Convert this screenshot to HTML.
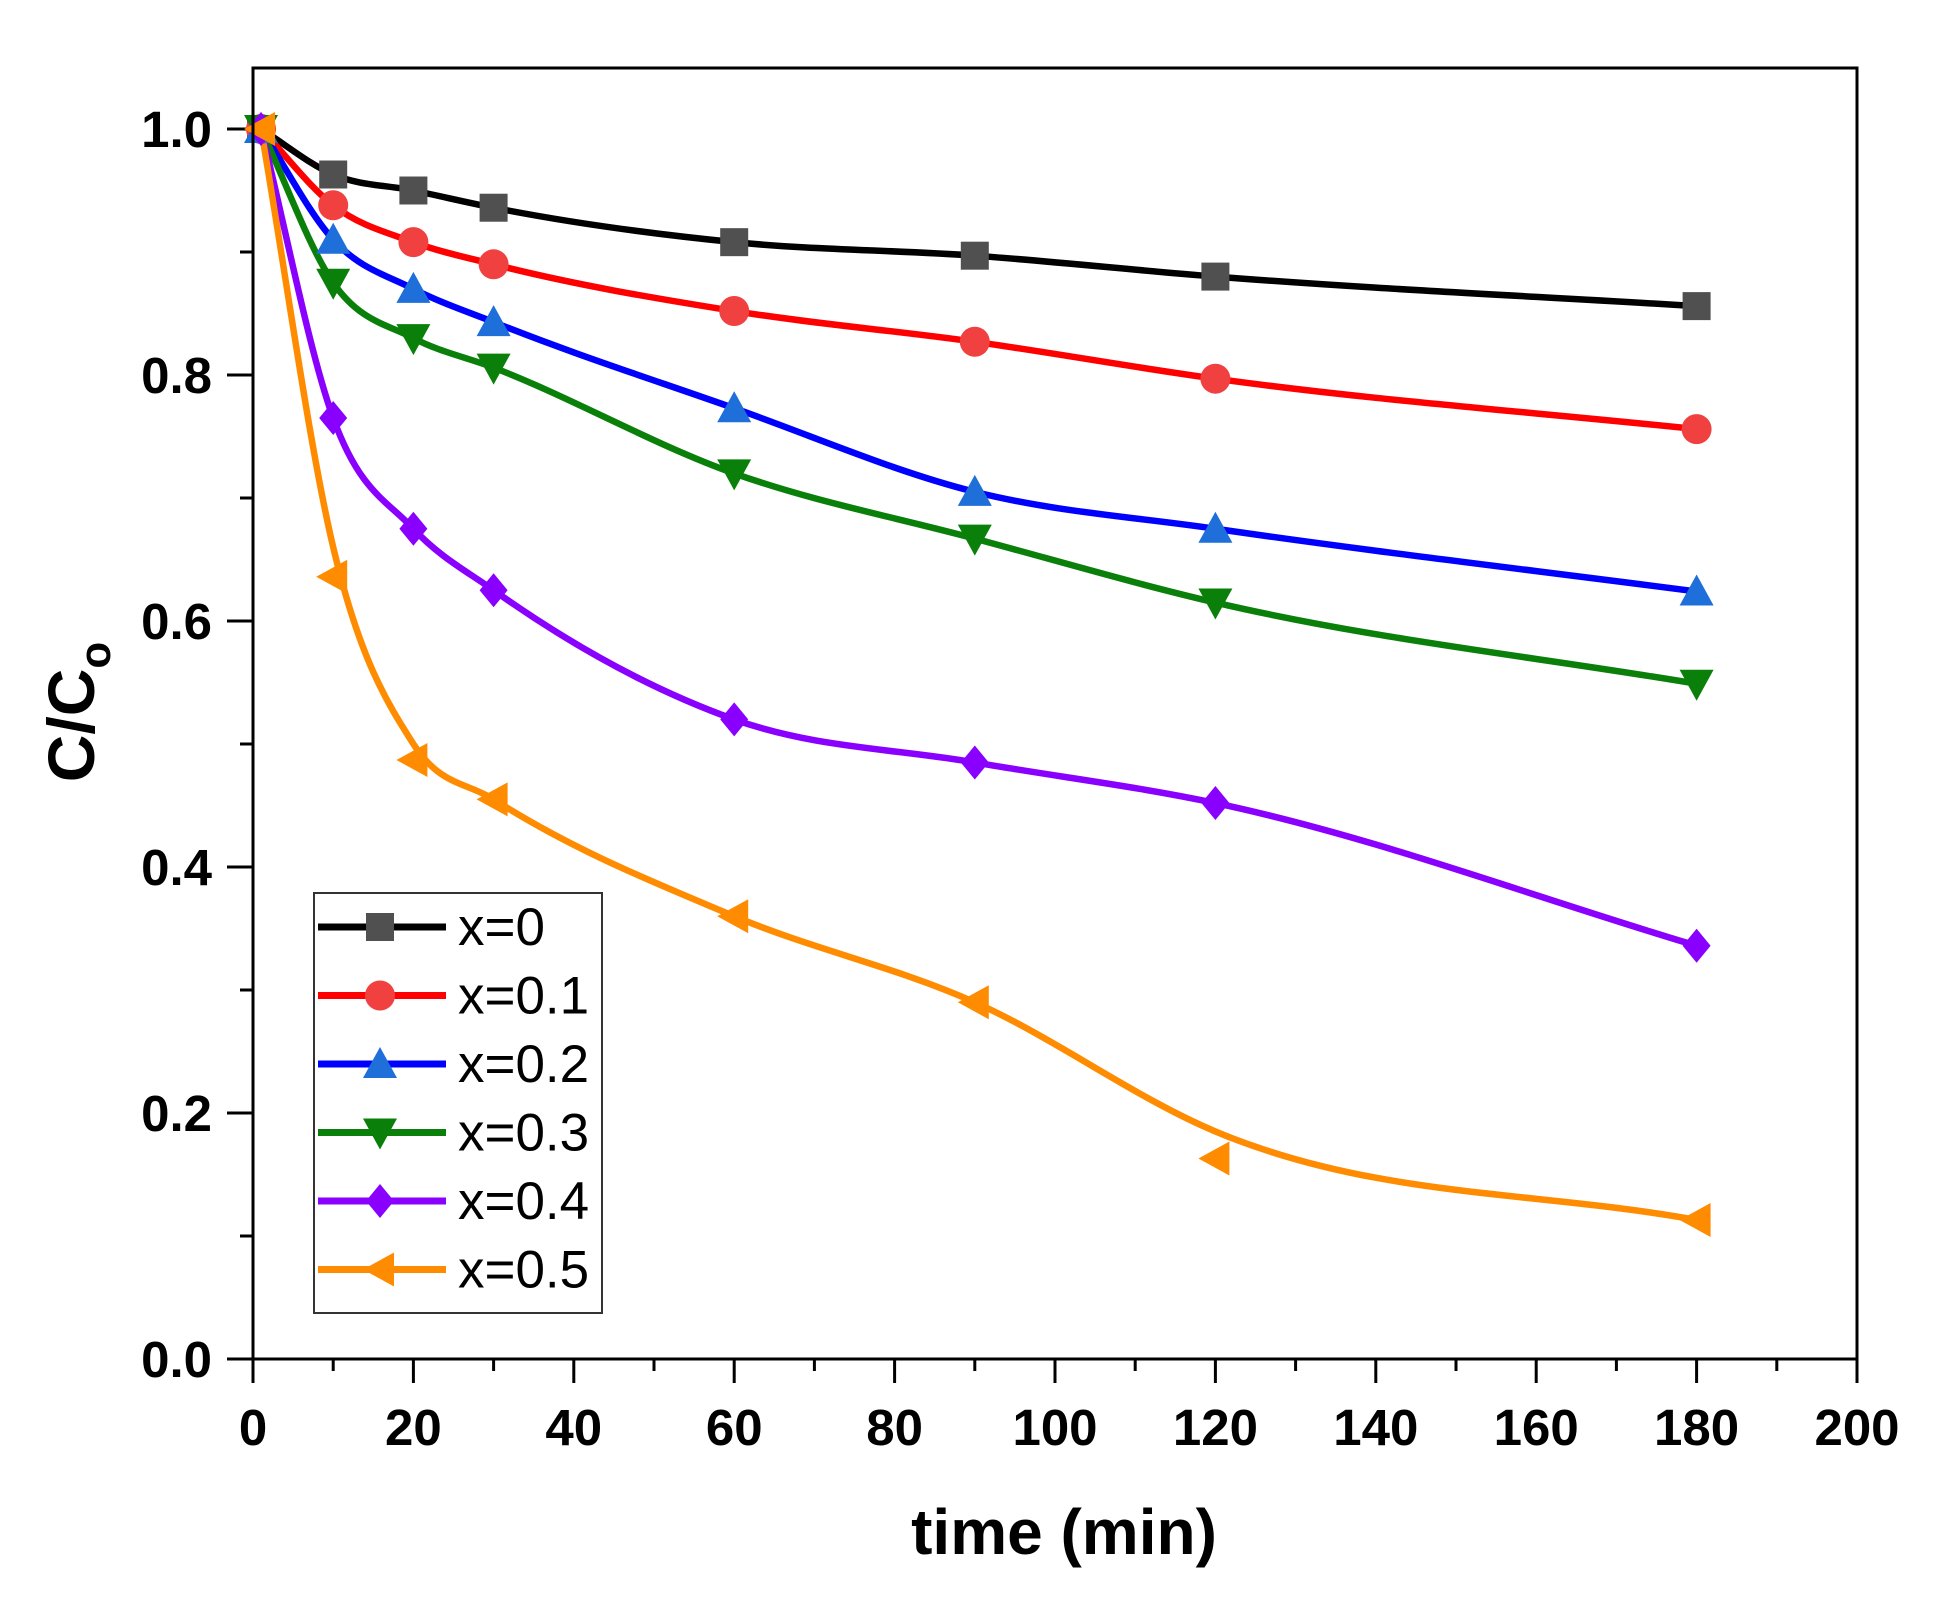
<!DOCTYPE html>
<html><head><meta charset="utf-8"><style>
body{margin:0;background:#fff;}
svg{display:block;font-family:"Liberation Sans",Arial,sans-serif;}
</style></head><body>
<svg id="s" width="1939" height="1606" viewBox="0 0 1939 1606" xmlns="http://www.w3.org/2000/svg"></svg>
<script>
const L=253,R=1857,T=68,B=1359;
const X=t=>L+t*(R-L)/200, Y=v=>B-v*1230;
const S=[
 {lc:'#000',mc:'#505050',m:'sq',d:[[1,1],[10,.963],[20,.95],[30,.936],[60,.908],[90,.897],[120,.88],[180,.856]],n:'x=0'},
 {lc:'#f00',mc:'#f04040',m:'ci',d:[[1,1],[10,.938],[20,.908],[30,.89],[60,.852],[90,.827],[120,.797],[180,.756]],n:'x=0.1'},
 {lc:'#00f',mc:'#1e6fd9',m:'up',d:[[1,1],[10,.91],[20,.87],[30,.843],[60,.773],[90,.705],[120,.675],[180,.624]],n:'x=0.2'},
 {lc:'#0a800a',mc:'#0a800a',m:'dn',d:[[1,1],[10,.875],[20,.83],[30,.806],[60,.72],[90,.667],[120,.615],[180,.549]],n:'x=0.3'},
 {lc:'#8a00ff',mc:'#8a00ff',m:'di',d:[[1,1],[10,.765],[20,.675],[30,.625],[60,.52],[90,.485],[120,.452],[180,.336]],n:'x=0.4'},
 {lc:'#ff8c00',mc:'#ff8c00',m:'lt',d:[[1,1],[10,.66],[20,.5],[30,.455],[60,.36],[90,.29],[120,.185],[180,.113]],n:'x=0.5',mk:[[1,1],[10,.636],[20,.487],[30,.455],[60,.36],[90,.29],[120,.163],[180,.113]]}
];
let h='';
function mark(m,x,y,c){const s=14;
 if(m=='sq')return `<rect x="${x-s}" y="${y-s}" width="${2*s}" height="${2*s}" fill="${c}"/>`;
 if(m=='ci')return `<circle cx="${x}" cy="${y}" r="${s+1}" fill="${c}"/>`;
 if(m=='up')return `<polygon points="${x},${y-s-3} ${x+s+3},${y+s} ${x-s-3},${y+s}" fill="${c}"/>`;
 if(m=='dn')return `<polygon points="${x},${y+s+3} ${x+s+3},${y-s} ${x-s-3},${y-s}" fill="${c}"/>`;
 if(m=='di')return `<polygon points="${x},${y-s-3} ${x+s},${y} ${x},${y+s+3} ${x-s},${y}" fill="${c}"/>`;
 if(m=='lt')return `<polygon points="${x-s-3},${y} ${x+s},${y-s-3} ${x+s},${y+s+3}" fill="${c}"/>`;}
function path(p){const n=p.length,m=[];
 for(let i=0;i<n;i++){if(i==0)m[i]=(p[1][1]-p[0][1])/(p[1][0]-p[0][0]);else if(i==n-1)m[i]=(p[i][1]-p[i-1][1])/(p[i][0]-p[i-1][0]);
  else{const a=(p[i][1]-p[i-1][1])/(p[i][0]-p[i-1][0]),b=(p[i+1][1]-p[i][1])/(p[i+1][0]-p[i][0]);
   const w1=p[i+1][0]-p[i][0],w2=p[i][0]-p[i-1][0];m[i]=(a*w1+b*w2)/(w1+w2);}}
 let d=`M${X(p[0][0])},${Y(p[0][1])}`;
 for(let i=0;i<n-1;i++){const dt=(p[i+1][0]-p[i][0])/3;
  d+=` C${X(p[i][0]+dt)},${Y(p[i][1]+m[i]*dt)} ${X(p[i+1][0]-dt)},${Y(p[i+1][1]-m[i+1]*dt)} ${X(p[i+1][0])},${Y(p[i+1][1])}`;}return d;}
for(let t=0;t<=200;t+=10){const maj=t%20==0;h+=`<line x1="${X(t)}" y1="${B}" x2="${X(t)}" y2="${B+(maj?24:12)}" stroke="#000" stroke-width="3"/>`;
 if(maj)h+=`<text x="${X(t)}" y="${B+86}" font-size="51" font-weight="bold" text-anchor="middle">${t}</text>`;}
for(let i=0;i<=10;i++){const v=i/10,maj=i%2==0;h+=`<line x1="${L}" y1="${Y(v)}" x2="${L-(maj?26:13)}" y2="${Y(v)}" stroke="#000" stroke-width="3"/>`;
 if(maj)h+=`<text x="212" y="${Y(v)+18}" font-size="51" font-weight="bold" text-anchor="end">${v.toFixed(1)}</text>`;}
S.forEach(s=>{h+=`<path d="${path(s.d)}" fill="none" stroke="${s.lc}" stroke-width="6.5"/>`;});
S.forEach(s=>{(s.mk||s.d).forEach(a=>h+=mark(s.m,X(a[0]),Y(a[1]),s.mc));});
h+=`<rect x="${L}" y="${T}" width="${R-L}" height="${B-T}" fill="none" stroke="#000" stroke-width="3"/>`;
h+=`<rect x="314" y="893" width="288" height="420" fill="#fff" stroke="#333" stroke-width="2"/>`;
S.forEach((s,i)=>{const y=927+i*68.5;h+=`<line x1="318" y1="${y}" x2="446" y2="${y}" stroke="${s.lc}" stroke-width="7"/>`+mark(s.m,380,y,s.mc)+`<text x="458" y="${y+18}" font-size="53">${s.n}</text>`;});
h+=`<text x="1064" y="1554" font-size="64" font-weight="bold" text-anchor="middle">time (min)</text>`;
h+=`<text transform="translate(94,712) rotate(-90)" font-size="66" font-weight="bold" text-anchor="middle">C/C<tspan font-size="44" dy="16">o</tspan></text>`;
document.getElementById('s').innerHTML=h;
</script>
</body></html>
